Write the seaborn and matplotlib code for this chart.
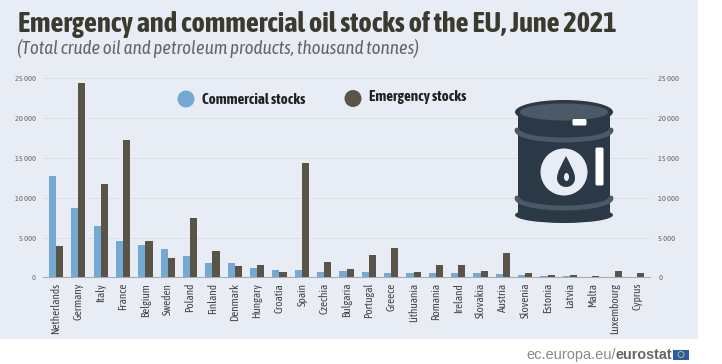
import pandas as pd
import matplotlib
matplotlib.use('Agg')
import matplotlib.pyplot as plt
import seaborn as sns
from matplotlib.patches import Ellipse, Arc, Circle, FancyBboxPatch, PathPatch, Rectangle
from matplotlib.path import Path
from matplotlib.ticker import FuncFormatter

# --- Data ---
countries = ['Netherlands', 'Germany', 'Italy', 'France', 'Belgium', 'Sweden', 'Poland', 'Finland',
             'Denmark', 'Hungary', 'Croatia', 'Spain', 'Czechia', 'Bulgaria', 'Portugal', 'Greece',
             'Lithuania', 'Romania', 'Ireland', 'Slovakia', 'Austria', 'Slovenia', 'Estonia',
             'Latvia', 'Malta', 'Luxembourg', 'Cyprus']
commercial = [12700, 8700, 6500, 4600, 4050, 3500, 2700, 1850, 1800, 1200, 950, 900, 700, 750, 700,
              600, 500, 500, 550, 500, 400, 280, 150, 120, 100, 30, 70]
emergency = [3900, 24400, 11700, 17200, 4600, 2400, 7400, 3300, 1450, 1500, 700, 14300, 1950, 1000,
             2750, 3700, 650, 1550, 1500, 850, 3000, 550, 300, 350, 150, 850, 600]
y_ticks = [0, 5000, 10000, 15000, 20000, 25000]

df = pd.DataFrame({'country': countries, 'Commercial stocks': commercial, 'Emergency stocks': emergency})
df = df.melt(id_vars='country', var_name='type', value_name='stocks')

# --- Colours ---
BG = '#e8edf5'
BLUE = '#74a9d3'
BROWN = '#5a5347'
NAVY = '#2b3845'
STEEL = '#4c5a68'

sns.set_theme(style='white')
plt.rcParams['font.family'] = ['Asap Condensed', 'Liberation Sans', 'DejaVu Sans']

W, H = 722, 364
fig = plt.figure(figsize=(W / 100, H / 100), dpi=100, facecolor='white')
fig.patches.append(Rectangle((0, 25 / H), 698 / W, 339 / H, transform=fig.transFigure,
                             facecolor=BG, edgecolor='none', zorder=-5))

# --- Bars ---
ax = fig.add_axes([43 / W, 1 - 277.3 / H, (650 - 43) / W, (277.3 - 78.3) / H])
ax.patch.set_alpha(0)
sns.barplot(data=df, x='country', y='stocks', hue='type', ax=ax, order=countries,
            palette=[BLUE, BROWN], width=0.64, gap=0, saturation=1, legend=False, zorder=3,
            edgecolor='none', linewidth=0)
ax.set_xlim(-0.58, 26.58)
ax.set_ylim(0, 25000)
ax.set_xlabel('')
ax.set_ylabel('')
ax.set_yticks(y_ticks)
fmt = FuncFormatter(lambda v, p: f'{int(v):,}'.replace(',', ' '))
ax.yaxis.set_major_formatter(fmt)
ax.tick_params(axis='y', length=0, labelsize=6, labelcolor='#666666', pad=5)
ax.tick_params(axis='x', length=0, labelsize=8, labelcolor='#444444', pad=4, labelrotation=90)
ax.get_yticklabels()[0].set_color('#6a6aa0')
ax.yaxis.grid(True, color='#cfd3d8', linewidth=0.7, linestyle=(0, (1, 1)), zorder=0)
ax.set_axisbelow(True)
for s in ['top', 'left', 'right']:
    ax.spines[s].set_visible(False)
ax.spines['bottom'].set_color('#a9adb3')
ax.spines['bottom'].set_linewidth(0.8)

ax2 = ax.twinx()
ax2.set_ylim(0, 25000)
ax2.set_yticks(y_ticks)
ax2.yaxis.set_major_formatter(fmt)
ax2.tick_params(axis='y', length=0, labelsize=6, labelcolor='#666666', pad=6)
ax2.grid(False)
for s in ax2.spines.values():
    s.set_visible(False)

# --- Overlay in pixel coordinates: titles, legend, barrel, footer ---
ov = fig.add_axes([0, 0, 1, 1], zorder=5)
ov.set_xlim(0, W)
ov.set_ylim(H, 0)
ov.axis('off')

ov.text(18, 24, 'Emergency and commercial oil stocks of the EU, June 2021', fontsize=20.4,
        fontweight='bold', color='#3b3a2e', va='center', ha='left')
ov.text(17, 49, '(Total crude oil and petroleum products, thousand tonnes)', fontsize=13.7,
        style='italic', color='#666666', va='center', ha='left')

ov.add_patch(Circle((186, 99), 8.5, color=BLUE, lw=0))
ov.text(202, 99.5, 'Commercial stocks', fontsize=10.8, fontweight='bold', color='#222222', va='center')
ov.add_patch(Circle((353, 98.5), 8.5, color=BROWN, lw=0))
ov.text(369, 97.5, 'Emergency stocks', fontsize=10.8, fontweight='bold', color='#222222', va='center')

# barrel icon
ov.add_patch(Rectangle((518, 112), 92, 100, color=NAVY, lw=0))
ov.add_patch(Ellipse((564, 112), 98, 24, color=NAVY, lw=0))
ov.add_patch(Ellipse((564, 112), 88, 17, color=STEEL, lw=0))
ov.add_patch(Ellipse((564, 215), 98, 16, color=NAVY, lw=0))
ov.add_patch(Arc((564, 130), 94, 20, theta1=0, theta2=180, color=STEEL, lw=3.5, capstyle='round'))
ov.add_patch(Arc((564, 198), 94, 20, theta1=0, theta2=180, color=STEEL, lw=3.5, capstyle='round'))
ov.add_patch(Circle((564, 172), 23.5, color=BG, lw=0))
drop = Path([(566, 156), (562, 164), (557, 172), (557, 178), (557, 190), (575, 190), (575, 178),
             (575, 172), (570, 164), (566, 156)],
            [Path.MOVETO, Path.CURVE4, Path.CURVE4, Path.CURVE4, Path.CURVE4, Path.CURVE4, Path.CURVE4,
             Path.CURVE4, Path.CURVE4, Path.CURVE4])
ov.add_patch(PathPatch(drop, facecolor=NAVY, edgecolor='none'))
ov.add_patch(Ellipse((566.5, 177), 5, 8, color=BG, lw=0))
ov.add_patch(FancyBboxPatch((597, 149), 5, 35, boxstyle='round,pad=1.5', color='white', lw=0))
ov.add_patch(FancyBboxPatch((574, 120.5), 11, 3.5, boxstyle='round,pad=1.5', color='white', lw=0))

# footer
ov.text(616, 355, 'ec.europa.eu/', fontsize=10.5, family='Liberation Sans', color='#8a8a8a', va='center', ha='right')
ov.text(616, 355, 'eurostat', fontsize=10.4, family='Liberation Sans', fontweight='bold', color='#666666', va='center')
ov.add_patch(Rectangle((673, 349.5), 16, 10, color='#2a5caa', lw=0))
ov.add_patch(Circle((681, 354.5), 3, facecolor='none', edgecolor='#d8c850', lw=0.6))

fig.savefig('out.png', dpi=100, facecolor='white')
